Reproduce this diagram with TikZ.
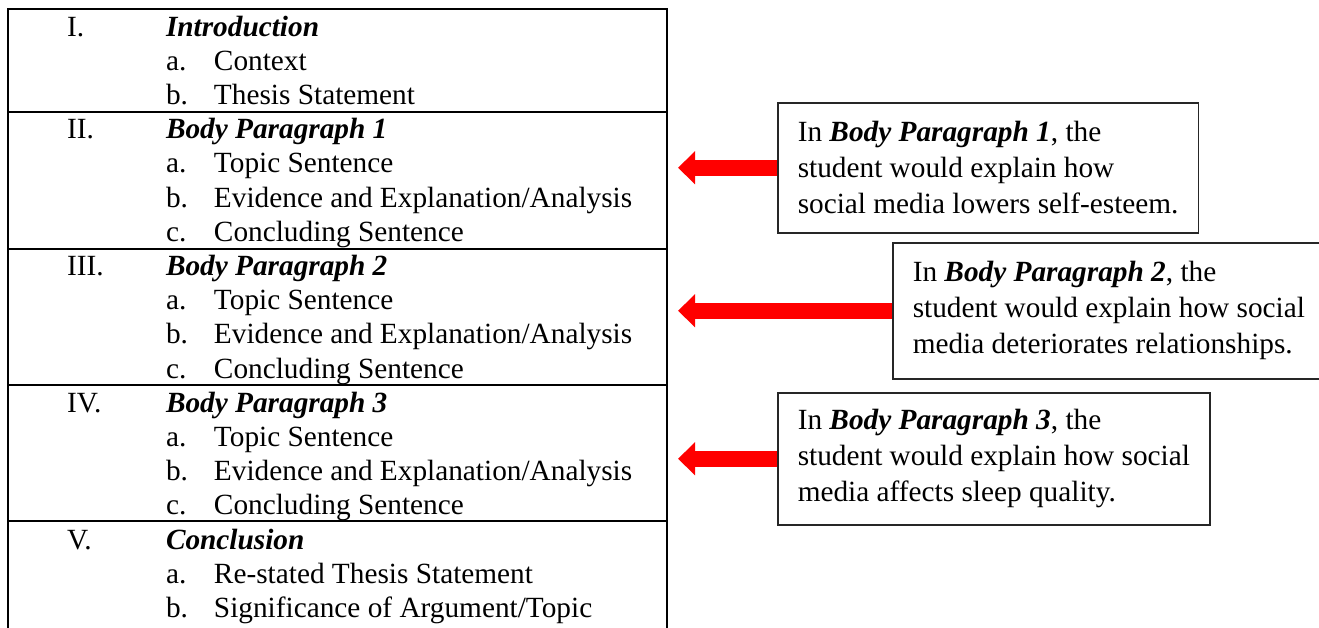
\documentclass[tikz,border=0pt]{standalone}
\usepackage{fontspec}
\setmainfont{Liberation Serif}
\usetikzlibrary{
  arrows.meta
}
\tikzset{
  % For the ruled lines of the outline table.
  rule/.style={
    line width=2pt},
%
  % For one line of text in the outline.
  entry/.style={
    anchor=base west,
    inner sep=0pt,
    outer sep=0pt,
    font=\fontsize{29.3pt}{34.2pt}\selectfont},
%
  % For the boxed comments on the right.
  note/.style={
    draw=black!85,
    line width=1.5pt,
    anchor=north west,
    align=left,
    inner xsep=20pt,
    inner ysep=0pt,
    font=\fontsize{29.3pt}{36pt}\selectfont},
%
  % For the fat red arrows.
  pointer/.style={
    draw=red,
    line width=16pt,
    -{Triangle[length=17pt,width=32pt]}}
}

% Roman numeral and heading of one section.
\newcommand{\outlinehead}[2]{\makebox[99pt][l]{#1}\textbf{\textit{#2}}}
% Letter and text of one item.
\newcommand{\outlineitem}[2]{\makebox[48pt][l]{#1}#2}

\begin{document}
\begin{tikzpicture}[x=1pt, y=-1pt]
  \useasboundingbox (0,0) rectangle (1319,627);

  % The table.
  \draw[rule] (8,630) |- (667,9) -- (667,630);
  \draw[rule] (8,112) -- (667,112);
  \draw[rule] (8,249) -- (667,249);
  \draw[rule] (8,385) -- (667,385);
  \draw[rule] (8,521) -- (667,521);

  \node[entry] (intro) at (67,36) {\outlinehead{I.}{Introduction}};
  \node[entry] (context) at (166,70.2) {\outlineitem{a.}{Context}};
  \node[entry] (thesis) at (166,104.4) {\outlineitem{b.}{Thesis Statement}};

  \node[entry] (body1) at (67,138.6) {\outlinehead{II.}{Body Paragraph 1}};
  \node[entry] (topic1) at (166,172.8) {\outlineitem{a.}{Topic Sentence}};
  \node[entry] (evidence1) at (166,207) {\outlineitem{b.}{Evidence and Explanation/Analysis}};
  \node[entry] (closing1) at (166,241.2) {\outlineitem{c.}{Concluding Sentence}};

  \node[entry] (body2) at (67,275.4) {\outlinehead{III.}{Body Paragraph 2}};
  \node[entry] (topic2) at (166,309.6) {\outlineitem{a.}{Topic Sentence}};
  \node[entry] (evidence2) at (166,343.8) {\outlineitem{b.}{Evidence and Explanation/Analysis}};
  \node[entry] (closing2) at (166,378) {\outlineitem{c.}{Concluding Sentence}};

  \node[entry] (body3) at (67,412.2) {\outlinehead{IV.}{Body Paragraph 3}};
  \node[entry] (topic3) at (166,446.4) {\outlineitem{a.}{Topic Sentence}};
  \node[entry] (evidence3) at (166,480.6) {\outlineitem{b.}{Evidence and Explanation/Analysis}};
  \node[entry] (closing3) at (166,514.8) {\outlineitem{c.}{Concluding Sentence}};

  \node[entry] (concl) at (67,549) {\outlinehead{V.}{Conclusion}};
  \node[entry] (restate) at (166,583.2) {\outlineitem{a.}{Re-stated Thesis Statement}};
  \node[entry] (significance) at (166,617.4) {\outlineitem{b.}{Significance of Argument/Topic}};

  % The comments.
  \node[note, minimum height=130pt] (note1) at (777,102)
    {In \textbf{\textit{Body Paragraph 1}}, the\\
     student would explain how\\
     social media lowers self-esteem.};
  \node[note, minimum height=136pt] (note2) at (892,242)
    {In \textbf{\textit{Body Paragraph 2}}, the\\
     student would explain how social\\
     media deteriorates relationships.};
  \node[note, minimum height=132pt] (note3) at (777,392)
    {In \textbf{\textit{Body Paragraph 3}}, the\\
     student would explain how social\\
     media affects sleep quality.};

  % Where the arrows end.
  \coordinate (tip) at (678,0);

  \draw[pointer] (note1.west) -- (note1.west -| tip);
  \draw[pointer] (note2.west) -- (note2.west -| tip);
  \draw[pointer] (note3.west) -- (note3.west -| tip);
\end{tikzpicture}
\end{document}
